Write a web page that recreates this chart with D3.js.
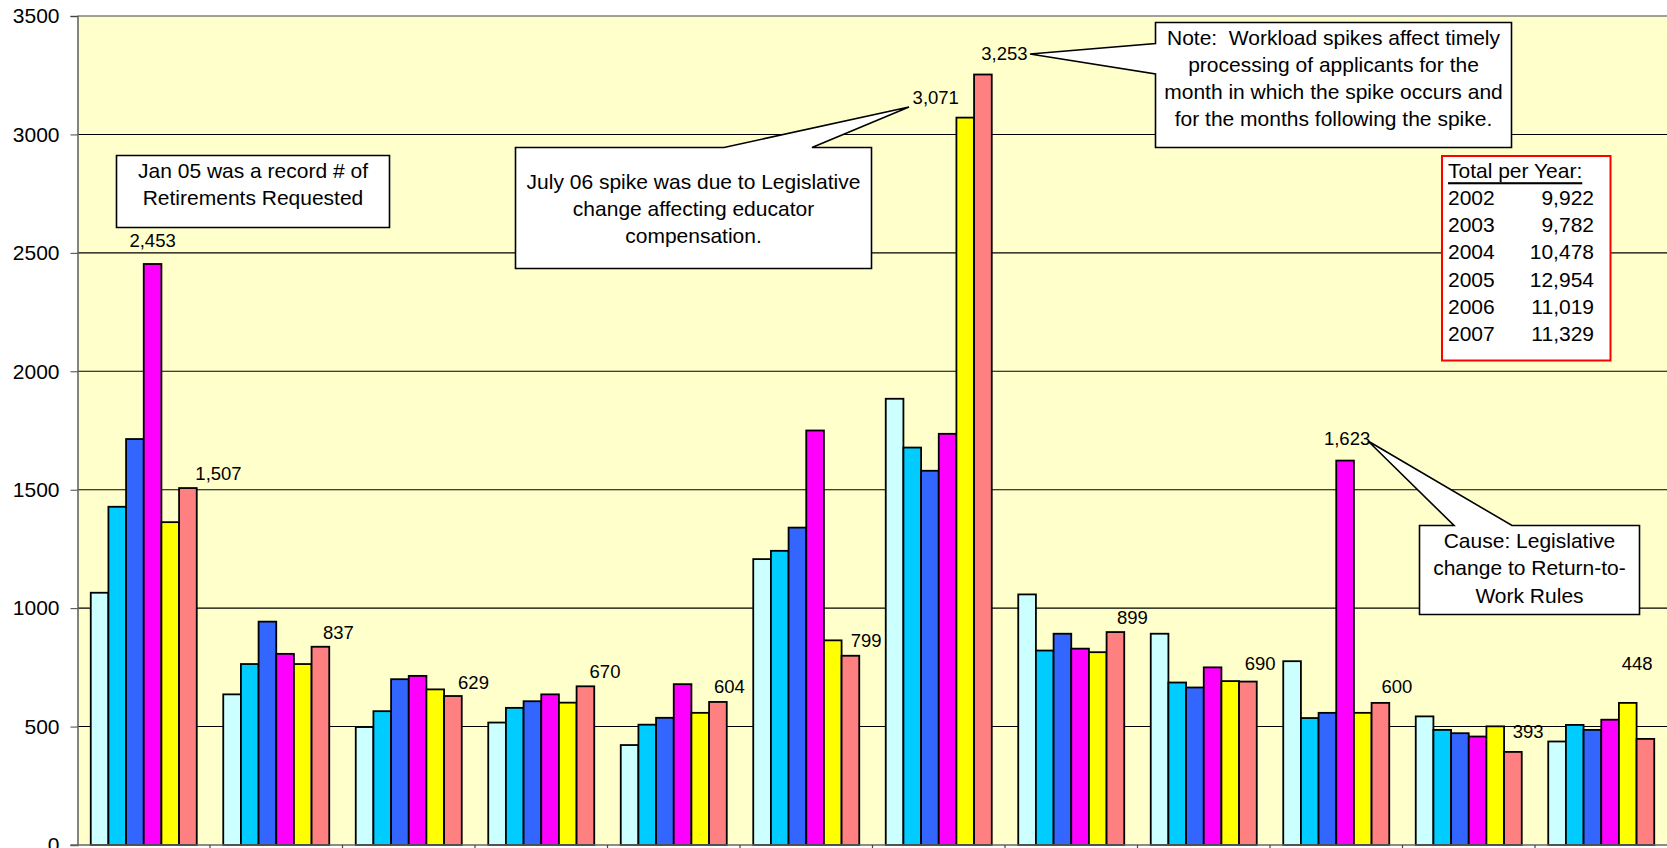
<!DOCTYPE html>
<html>
<head>
<meta charset="utf-8">
<script src="https://cdn.jsdelivr.net/npm/d3@7"></script>
<style>
  html, body { margin: 0; padding: 0; background: #ffffff; }
  svg { display: block; }
  text { font-family: "Liberation Sans", Arial, sans-serif; fill: #000; }
</style>
</head>
<body>
<svg id="chart" width="1667" height="848"></svg>
<script>
// ---------------- data ----------------
const months = ["Jan","Feb","Mar","Apr","May","Jun","Jul","Aug","Sep","Oct","Nov","Dec"];
const years = ["2002","2003","2004","2005","2006","2007"];
const s2002 = [1065, 636, 498, 517, 422, 1207, 1884, 1058, 892, 776, 543, 437];
const s2003 = [1428, 764, 565, 579, 508, 1242, 1678, 821, 686, 536, 486, 507];
const s2004 = [1714, 943, 700, 607, 537, 1340, 1580, 892, 665, 558, 472, 486];
const s2005 = [2453, 807, 714, 636, 679, 1750, 1736, 829, 750, 1623, 458, 529];
const s2006 = [1363, 764, 657, 601, 558, 864, 3071, 814, 692, 558, 501, 600];
const s2007 = [1507, 837, 629, 670, 604, 799, 3253, 899, 690, 600, 393, 448];
const yTicks = [0, 500, 1000, 1500, 2000, 2500, 3000, 3500];
const totalYears = ["2002","2003","2004","2005","2006","2007"];
const totalValues = [9922, 9782, 10478, 12954, 11019, 11329];
// which bars carry a data label: [monthIndex, seriesIndex]
const labelPoints = [[0,3],[0,5],[1,5],[2,5],[3,5],[4,5],[5,5],[6,4],[6,5],[7,5],[8,5],[9,3],[9,5],[10,5],[11,5]];

// ---------------- styles / layout ----------------
const seriesColors = ["#CCFFFF","#00CCFF","#3366FF","#FF00FF","#FFFF00","#FF8080"];
const labelDx = [0, 30.6, 18, 20.6, 19.6, 11.5, 15.7, -29.5, 21.5, 17, 12.3, 2, 16.4, 15.2, -8.3];
const labelDy = [17, 8, 7.4, 6.7, 8, 9.3, 9, 13.6, 15, 8, 11.6, 15.6, 9.6, 14, 69];

const plot = {left: 77.5, right: 1668, top: 16, bottom: 845};
const series = [s2002, s2003, s2004, s2005, s2006, s2007];

const svg = d3.select("#chart");

const x0 = d3.scaleBand().domain(months).range([plot.left, plot.right - 0.5]).paddingInner(0).paddingOuter(0);
const x1 = d3.scaleBand().domain(years).range([0, x0.bandwidth()]).paddingInner(0).paddingOuter(0.75);
const y = d3.scaleLinear().domain([0, 3500]).range([plot.bottom, plot.top]);

// plot background
svg.append("rect")
  .attr("x", plot.left).attr("y", plot.top)
  .attr("width", plot.right - plot.left).attr("height", plot.bottom - plot.top)
  .attr("fill", "#FFFFCC");

// gridlines
svg.append("g").selectAll("line")
  .data(yTicks.filter(d => d > 0 && d < 3500))
  .join("line")
  .attr("x1", plot.left).attr("x2", plot.right)
  .attr("y1", d => y(d)).attr("y2", d => y(d))
  .attr("stroke", "#000").attr("stroke-width", 1.1);

// top border
svg.append("line")
  .attr("x1", plot.left).attr("x2", plot.right)
  .attr("y1", plot.top).attr("y2", plot.top)
  .attr("stroke", "#808080").attr("stroke-width", 1.5);

// bars
const data = [];
months.forEach((m, i) => {
  years.forEach((yr, j) => data.push({m, yr, i, j, v: series[j][i]}));
});
svg.append("g").selectAll("rect")
  .data(data)
  .join("rect")
  .attr("x", d => x0(d.m) + x1(d.yr))
  .attr("width", x1.bandwidth())
  .attr("y", d => y(d.v))
  .attr("height", d => y(0) - y(d.v))
  .attr("fill", d => seriesColors[d.j])
  .attr("stroke", "#000")
  .attr("stroke-width", 1.8);

// y axis
const yAxis = d3.axisLeft(y).tickValues(yTicks).tickSize(7).tickPadding(11).tickFormat(d3.format("d"));
const gy = svg.append("g").attr("transform", `translate(${plot.left},0)`).call(yAxis);
gy.select(".domain").attr("stroke", "#666").attr("stroke-width", 1.6);
gy.selectAll(".tick line").attr("stroke", "#444");
gy.selectAll(".tick text")
  .style("font-family", '"Liberation Sans", Arial, sans-serif')
  .style("font-size", "21px").attr("fill", "#000");

// x axis (category boundary ticks, labels fall below the visible area)
const gx = svg.append("g");
gx.append("line")
  .attr("x1", plot.left - 7).attr("x2", plot.right)
  .attr("y1", plot.bottom).attr("y2", plot.bottom)
  .attr("stroke", "#666").attr("stroke-width", 1.6);
gx.selectAll("line.tk")
  .data(months.slice(1))
  .join("line").attr("class", "tk")
  .attr("x1", d => x0(d)).attr("x2", d => x0(d))
  .attr("y1", plot.bottom).attr("y2", plot.bottom + 8)
  .attr("stroke", "#444").attr("stroke-width", 1.2);

// data labels
const fmt = d3.format(",");
svg.append("g").selectAll("text")
  .data(labelPoints)
  .join("text")
  .attr("x", (p, k) => x0(months[p[0]]) + x1(years[p[1]]) + x1.bandwidth() / 2 + labelDx[k])
  .attr("y", (p, k) => y(series[p[1]][p[0]]) - labelDy[k])
  .attr("text-anchor", "middle")
  .style("font-size", "18.5px")
  .text(p => fmt(series[p[1]][p[0]]));

// ---------------- callouts ----------------
const calloutFont = "21px";
function callout(box, wedge, lines, firstY, lineH) {
  const {x0: bx0, y0: by0, x1: bx1, y1: by1} = box;
  let path;
  if (!wedge) {
    path = `M${bx0},${by0}H${bx1}V${by1}H${bx0}Z`;
  } else if (wedge.side === "top") {
    path = `M${bx0},${by0}H${wedge.a}L${wedge.tx},${wedge.ty}L${wedge.b},${by0}H${bx1}V${by1}H${bx0}Z`;
  } else if (wedge.side === "left") {
    path = `M${bx0},${by0}H${bx1}V${by1}H${bx0}V${wedge.b}L${wedge.tx},${wedge.ty}L${bx0},${wedge.a}Z`;
  }
  const g = svg.append("g");
  g.append("path").attr("d", path)
    .attr("fill", "#fff").attr("stroke", "#000").attr("stroke-width", 1.6)
    .attr("stroke-linejoin", "miter");
  const cx = (bx0 + bx1) / 2;
  lines.forEach((t, i) => {
    g.append("text")
      .attr("x", cx).attr("y", firstY + i * lineH)
      .attr("text-anchor", "middle")
      .attr("dominant-baseline", "central")
      .attr("xml:space", "preserve")
      .style("white-space", "pre")
      .style("font-size", calloutFont)
      .text(t);
  });
}

callout({x0: 116.5, y0: 155.5, x1: 389.5, y1: 227.5}, null,
  ["Jan 05 was a record # of", "Retirements Requested"], 170, 27.3);

callout({x0: 515.5, y0: 147.5, x1: 871.5, y1: 268.5},
  {side: "top", a: 724, b: 812, tx: 909, ty: 107},
  ["July 06 spike was due to Legislative", "change affecting educator", "compensation."], 181.7, 27);

callout({x0: 1155.5, y0: 22.5, x1: 1511.5, y1: 147.5},
  {side: "left", a: 43.5, b: 74, tx: 1030, ty: 54},
  ["Note:  Workload spikes affect timely", "processing of applicants for the",
   "month in which the spike occurs and", "for the months following the spike."], 37.3, 27.2);

callout({x0: 1419.5, y0: 525.5, x1: 1639.5, y1: 614.5},
  {side: "top", a: 1454, b: 1512, tx: 1368, ty: 441},
  ["Cause: Legislative", "change to Return-to-", "Work Rules"], 540.7, 27.2);

// totals table
const tb = {x0: 1442, y0: 156, x1: 1610.5, y1: 360.5};
const tg = svg.append("g");
tg.append("rect").attr("x", tb.x0).attr("y", tb.y0)
  .attr("width", tb.x1 - tb.x0).attr("height", tb.y1 - tb.y0)
  .attr("fill", "#fff").attr("stroke", "#FF0000").attr("stroke-width", 2);
tg.append("text").attr("x", 1448).attr("y", 170.7)
  .attr("dominant-baseline", "central")
  .style("font-size", calloutFont).style("text-decoration", "underline")
  .text("Total per Year:");
totalYears.forEach((yr, i) => {
  tg.append("text").attr("x", 1448).attr("y", 197.5 + i * 27.2)
    .attr("dominant-baseline", "central").style("font-size", calloutFont).text(yr);
  tg.append("text").attr("x", 1594).attr("y", 197.5 + i * 27.2)
    .attr("dominant-baseline", "central").attr("text-anchor", "end")
    .style("font-size", calloutFont).text(fmt(totalValues[i]));
});
</script>
</body>
</html>
